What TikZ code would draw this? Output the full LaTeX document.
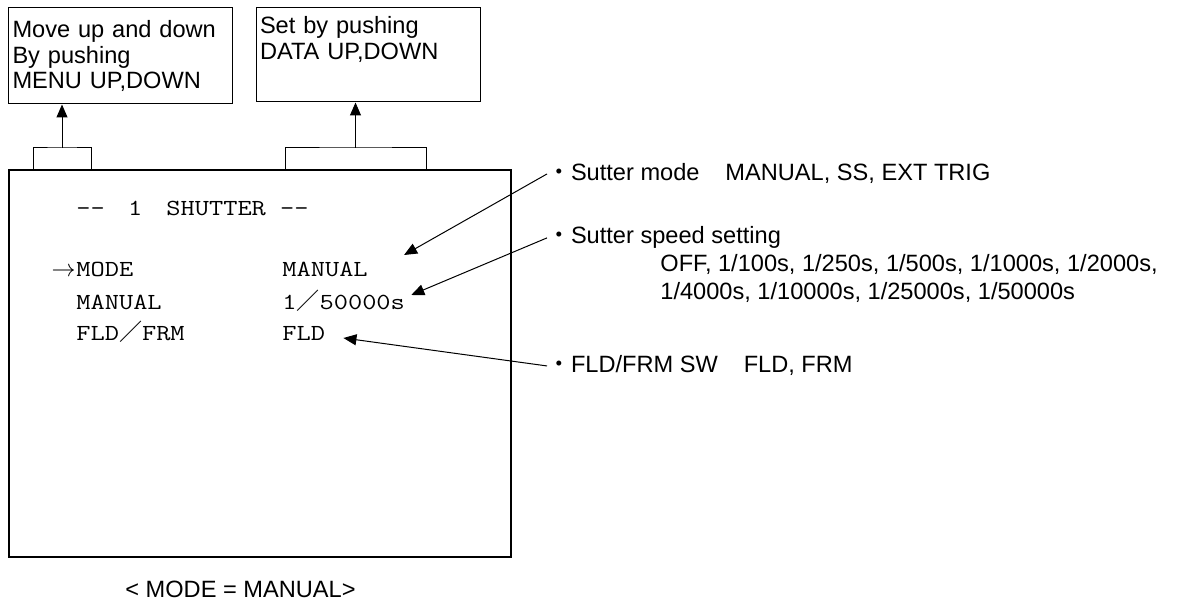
\documentclass[tikz,border=0pt]{standalone}
\usepackage{fontspec}
\setmainfont{Liberation Sans}
\newfontfamily\menufont[FakeStretch=1.2]{Latin Modern Mono}
\newfontfamily\cjk{Noto Sans CJK JP}
\usetikzlibrary{arrows.meta,positioning}
\tikzset{
  note/.style={font=\fontsize{11.8}{14}\selectfont, inner sep=0pt},
  tipbox/.style={draw, line width=0.5pt, align=left, inner xsep=2pt, inner ysep=0pt,
    minimum width=112pt, text width=108pt, font=\fontsize{11.8}{12.9}\selectfont},
  menu/.style={font=\menufont\fontsize{11.5}{13}\selectfont, inner sep=0pt, anchor=base west},
  pointer/.style={-{Triangle[length=6.5pt,width=5.5pt]}, line width=0.5pt},
}
\begin{document}
\begin{tikzpicture}[x=0.5pt,y=-0.5pt]
  \useasboundingbox (0,0) rectangle (1177,603);
  % key help boxes
  \node[tipbox, minimum height=48pt] (menubox) at (120.5,56)
    {Move up and down\\By pushing\\MENU UP,DOWN};
  \node[tipbox, minimum height=47pt] (databox) at (368,55)
    {Set by pushing\\DATA UP,DOWN\\\strut};
  % screen
  \node[draw, line width=1pt, minimum width=251pt, minimum height=193.5pt] (screen) at (260,363.5) {};
  \coordinate (menusel) at (62,148);
  \coordinate (datasel) at (355.5,148);
  \draw[line width=0.5pt] (33,169) |- (menusel) -| (91,169);
  \draw[line width=0.5pt] (285,169) |- (datasel) -| (426,169);
  \draw[pointer] (menusel) -- (menusel |- menubox.south);
  \draw[pointer] (datasel) -- (datasel |- databox.south);
  % menu page
  \node[menu] (title) at (76,216) {\mbox{-}\mbox{-}\hspace{11.6pt}1\hspace{12.1pt}SHUTTER \mbox{-}\mbox{-}};
  \node[menu] (modeitem) at (76,277) {MODE};
  \node[menu, anchor=base east] (cursor) at (modeitem.base west) {$\rightarrow$};
  \node[menu] (manitem) at (76,310) {MANUAL};
  \node[menu] (flditem) at (76,341) {FLD{\cjk ／}FRM};
  \node[menu] (modeval) at (282,277) {MANUAL};
  \node[menu] (manval) at (282,310) {1{\cjk ／}50000s};
  \node[menu] (fldval) at (282,341) {FLD};
  % notes
  \node[note, anchor=base west] (modelbl) at (547,181) {{\cjk ・}Sutter mode\hspace{1.1em}MANUAL, SS, EXT TRIG};
  \node[note, anchor=base west] (speedlbl) at (547,244) {{\cjk ・}Sutter speed setting};
  \node[note, anchor=base west, align=left] (speedlist) at (660,300)
    {OFF, 1/100s, 1/250s, 1/500s, 1/1000s, 1/2000s,\\1/4000s, 1/10000s, 1/25000s, 1/50000s};
  \node[note, anchor=base west] (fldlbl) at (547,373) {{\cjk ・}FLD/FRM SW\hspace{1.1em}FLD, FRM};
  \node[note, anchor=base west] (caption) at (125,597) {< MODE = MANUAL>};
  \draw[pointer] (modelbl.west) -- ([shift={(36,-22)}]modeval.base east);
  \draw[pointer] (speedlbl.west) -- ([shift={(6,-15)}]manval.base east);
  \draw[pointer] (fldlbl.west) -- ([shift={(18,-3)}]fldval.base east);
\end{tikzpicture}
\end{document}
